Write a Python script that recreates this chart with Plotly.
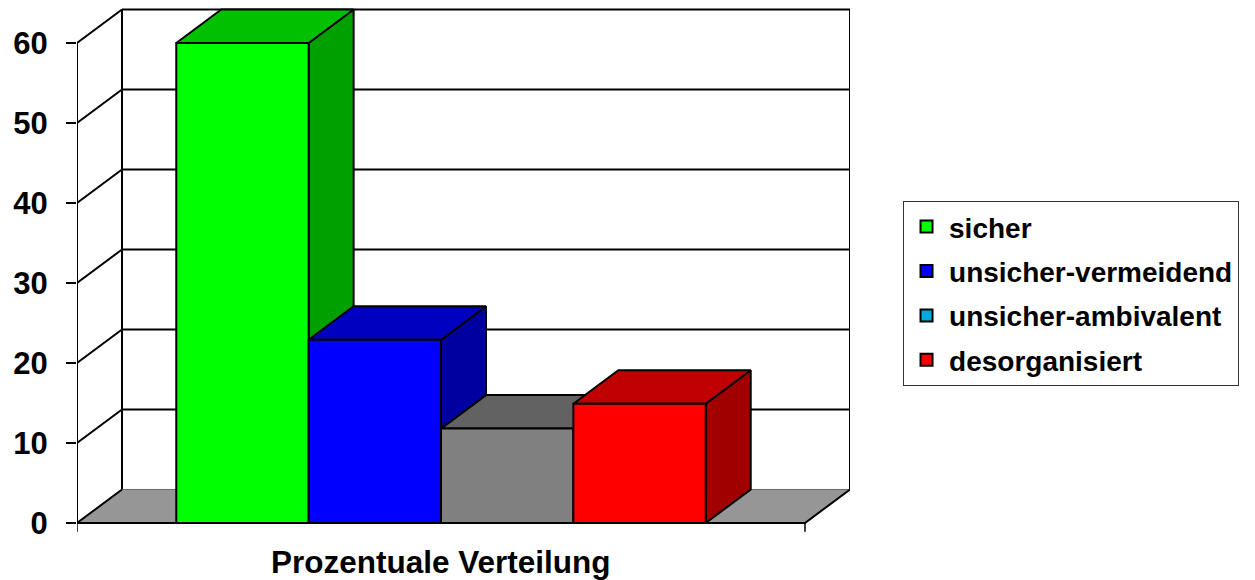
import plotly.graph_objects as go

# ---- data ----
categories = ["Prozentuale Verteilung"]
series_names = ["sicher", "unsicher-vermeidend", "unsicher-ambivalent", "desorganisiert"]
values = [60, 22.9, 11.8, 14.9]
y_ticks = [0, 10, 20, 30, 40, 50, 60]
y_tick_labels = ["0", "10", "20", "30", "40", "50", "60"]

# ---- styles ----
front_colors = ["#00FF00", "#0000FF", "#808080", "#FF0000"]
top_colors = ["#00C000", "#0000C0", "#626262", "#C00000"]
side_colors = ["#00A000", "#0000A0", "#505050", "#A00000"]
legend_colors = ["#00FF00", "#0000FF", "#00AADC", "#FF0000"]
FLOOR = "#969696"
FONT = "Liberation Sans, Arial, sans-serif"

BAR_W = 1.0      # bar width in category units
GAP = 0.75       # gap at each side of the group
DX = 0.34        # depth offset (x units)
DY = 4.19        # depth offset (value units)
n = len(values)
x_end = 2 * GAP + n * BAR_W
y_top = max(y_ticks)

fig = go.Figure()


def poly(xs, ys, fill, lc="black", lw=2):
    fig.add_trace(go.Scatter(x=xs + [xs[0]], y=ys + [ys[0]], mode="lines", fill="toself",
                             fillcolor=fill, line=dict(color=lc, width=lw),
                             hoverinfo="skip", showlegend=False))


def line(xs, ys, lc="black", lw=2):
    fig.add_trace(go.Scatter(x=xs, y=ys, mode="lines", line=dict(color=lc, width=lw),
                             hoverinfo="skip", showlegend=False))


# back wall grid lines
for v in y_ticks[1:]:
    line([DX, x_end + DX], [v + DY, v + DY])
# left wall diagonals
for v in y_ticks[1:]:
    line([0, DX], [v, v + DY])
# wall verticals
line([0, 0], [0, y_top])
line([DX, DX], [DY, y_top + DY])
line([x_end + DX, x_end + DX], [DY, y_top + DY])

# floor
poly([0, x_end, x_end + DX, DX], [0, 0, DY, DY], FLOOR, lc=FLOOR, lw=0.5)
line([DX, x_end + DX], [DY, DY], lc="#6a6a6a", lw=1)
line([0, DX], [0, DY])
line([0, x_end, x_end + DX], [0, 0, DY])
# small ticks below category axis
line([0, 0], [0, -1.1], lw=1.5)
line([x_end, x_end], [0, -1.1], lw=1.5)

# bars
for i, h in enumerate(values):
    x0 = GAP + i * BAR_W
    x1 = x0 + BAR_W
    poly([x1, x1 + DX, x1 + DX, x1], [0, DY, h + DY, h], side_colors[i])
    poly([x0, x1, x1 + DX, x0 + DX], [h, h, h + DY, h + DY], top_colors[i])
    poly([x0, x1, x1, x0], [0, 0, h, h], front_colors[i])

# legend entries
for name, c in zip(series_names, legend_colors):
    fig.add_trace(go.Scatter(x=[None], y=[None], mode="markers", name=name, legendgroup=name,
                             marker=dict(symbol="square", size=12, color=c,
                                         line=dict(color="black", width=1.5))))

fig.add_annotation(x=(x_end / 2) / (x_end + DX), y=-0.05, xref="paper", yref="paper",
                   text=categories[0], showarrow=False,
                   xanchor="center", yanchor="middle",
                   font=dict(family=FONT, size=31.5, color="black", weight="bold"))

fig.update_layout(
    width=1255, height=580,
    margin=dict(l=77, r=405, t=3, b=45, pad=0),
    paper_bgcolor="white", plot_bgcolor="white",
    xaxis=dict(range=[0, x_end + DX], visible=False, fixedrange=True),
    yaxis=dict(range=[-1.5, 65], tickvals=y_ticks, ticktext=y_tick_labels,
               ticks="outside", ticklen=10, tickwidth=1.5, tickcolor="black",
               showgrid=False, zeroline=False, showline=False, ticklabelstandoff=12,
               tickfont=dict(family=FONT, size=31, color="black", weight="bold")),
    legend=dict(x=1.0686, y=0.628, xanchor="left", yanchor="top",
                bgcolor="white", bordercolor="#333333", borderwidth=1,
                font=dict(family=FONT, size=28, color="black", weight="bold"),
                tracegroupgap=5, itemsizing="constant", itemwidth=35,
                entrywidth=366, entrywidthmode="pixels"),
    showlegend=True,
)

fig.write_html("out.html", config={"displayModeBar": False},
               post_script="document.body.style.margin='0';")
